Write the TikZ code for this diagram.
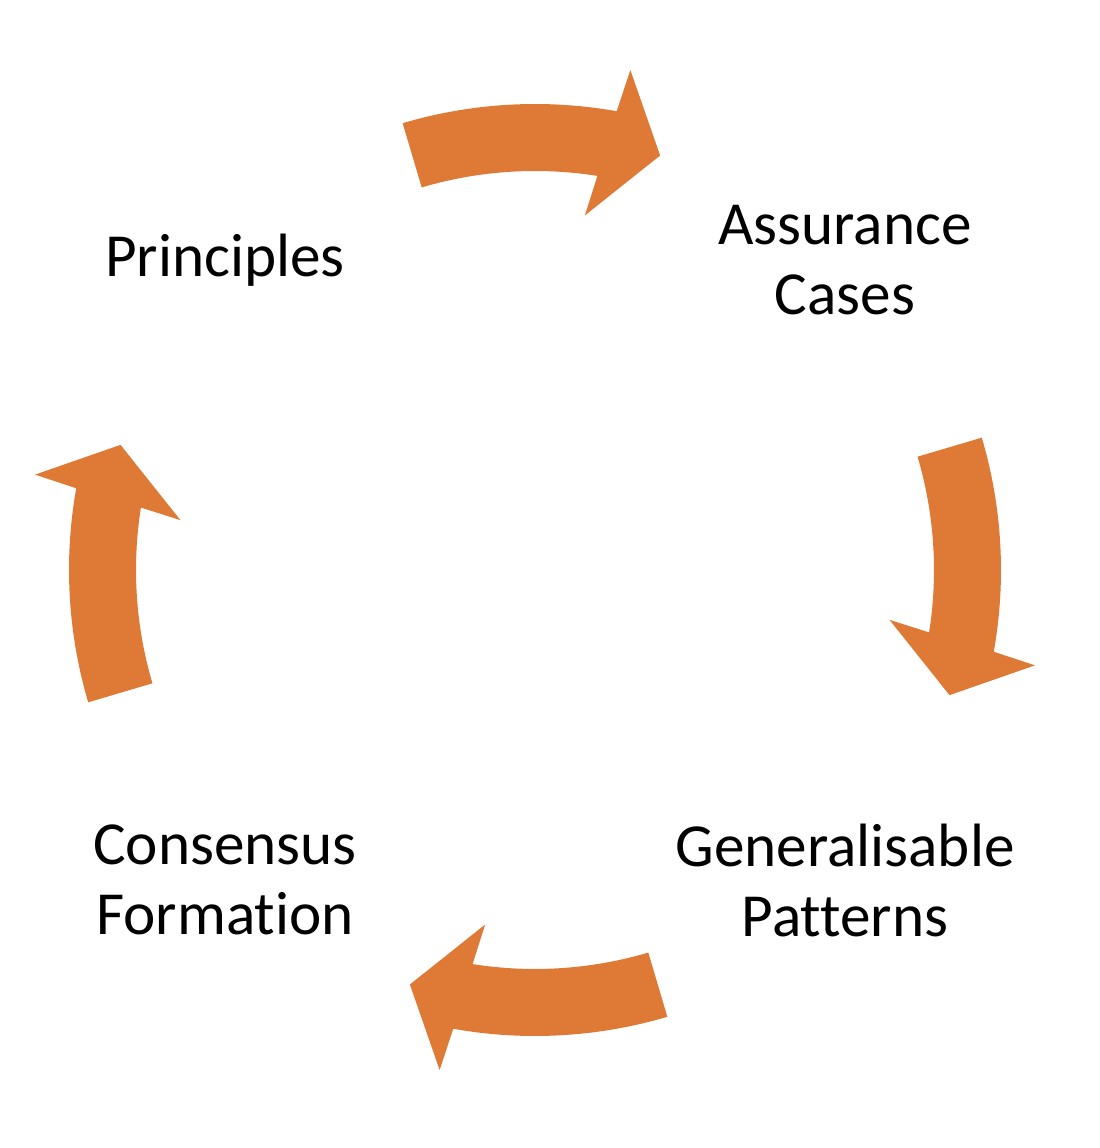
\documentclass[tikz,border=0pt]{standalone}
\usepackage{fontspec}
\setmainfont{Carlito}[Ligatures=NoCommon]
\definecolor{cycleorange}{RGB}{223,122,54}

\begin{document}
\begin{tikzpicture}[x=0.01cm, y=0.01cm, every node/.style={font=\fontsize{17.4pt}{19.9pt}\selectfont, align=center}]
	\useasboundingbox (0,0) rectangle (1100,1148);
	\coordinate (c) at (535,578);

	% four curved block arrows, one per quarter
	\begin{scope}[shift={(c)}]
		\foreach \rot in {0,90,180,270}
			\fill[cycleorange, rotate=-\rot] (106.5:466) arc[start angle=106.5, end angle=79.9, radius=466]
				-- (79.2:509) -- (73.2:433) -- (82:358) -- (81:399)
				arc[start angle=81, end angle=106.5, radius=399] -- cycle;
	\end{scope}

	% labels
	\node (principles) at (225,888) {Principles};
	\node (assurance) at (845,888) {Assurance\\Cases};
	\node (patterns) at (845,268) {Generalisable\\Patterns};
	\node (consensus) at (225,268) {Consensus\\Formation};
\end{tikzpicture}
\end{document}
